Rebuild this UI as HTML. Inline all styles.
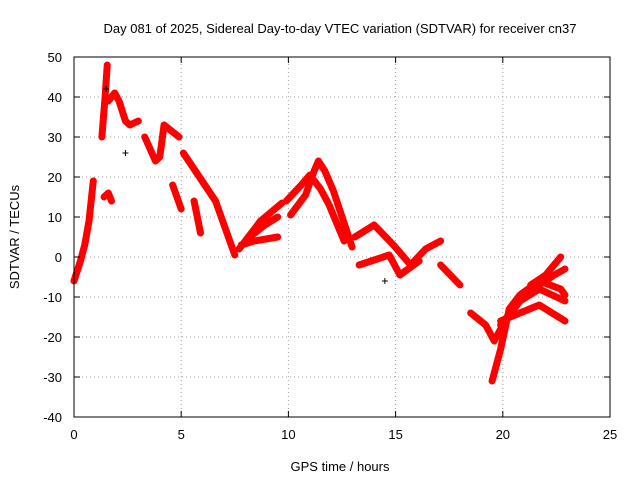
<!DOCTYPE html>
<html><head><meta charset="utf-8"><style>
body{margin:0;background:#fff;width:640px;height:480px;overflow:hidden}
svg{font-family:"Liberation Sans",sans-serif;font-size:12px}
</style></head><body>
<svg id="chart" width="640" height="480" xmlns="http://www.w3.org/2000/svg">
<text x="340" y="33" text-anchor="middle" font-size="13">Day 081 of 2025, Sidereal Day-to-day VTEC variation (SDTVAR) for receiver cn37</text>
<text x="340" y="471" text-anchor="middle" font-size="13">GPS time / hours</text>
<text x="19" y="237" text-anchor="middle" font-size="13" transform="rotate(-90 19 237)">SDTVAR / TECUs</text>
<g id="grid"></g><g id="marks"></g><g id="axes"></g>
</svg>
<script>
const xTicks=[0,5,10,15,20,25];
const yTicks=[-40,-30,-20,-10,0,10,20,30,40,50];
const track1=[[0,-6],[0.3,-1],[0.5,3],[0.7,9],[0.9,19]];
const track2=[[1.3,30],[1.45,40],[1.55,48]];
const track3=[[1.4,15],[1.6,16],[1.75,14]];
const track4=[[1.6,39],[1.9,41],[2.1,39],[2.4,34],[2.6,33],[3.0,34]];
const track5=[[3.3,30],[3.8,24],[4.0,25],[4.2,33],[4.9,30]];
const track6=[[4.6,18],[5.0,12]];
const track7=[[5.1,26],[6.1,18],[6.6,14],[7.0,8],[7.5,0.5]];
const track8=[[5.6,14],[5.9,6]];
const track9=[[7.7,2],[8.7,9],[9.7,13.5]];
const track10=[[7.8,3],[8.4,4],[9.5,5]];
const track10b=[[8.2,5],[8.9,8],[9.5,10]];
const track11=[[10.1,10.5],[10.8,15.5],[11.2,21.5],[11.4,24],[11.7,21.5],[12.1,16.5],[12.97,2.5]];
const track12=[[9.9,14],[10.6,18],[11.0,20.5],[11.5,17],[11.9,13],[12.6,4]];
const track13=[[13.1,5],[14.0,8],[14.9,3],[15.7,-2],[16.4,2],[17.1,4]];
const track14=[[13.3,-2],[14.7,0.5],[15.2,-4.5],[16.1,-1]];
const track15=[[17.1,-2],[18.0,-7]];
const track16=[[18.5,-14],[19.2,-17],[19.6,-21],[20.1,-16],[20.8,-11],[21.7,-7],[22.4,-4.5],[22.9,-3]];
const track17=[[19.5,-31],[19.9,-23],[20.3,-13],[20.8,-9.5],[21.7,-6],[22.7,-8],[22.9,-9.5]];
const track18=[[19.9,-17],[20.8,-11],[21.7,-8],[22.9,-11]];
const track19=[[19.9,-16],[21.7,-12],[22.9,-16]];
const track20=[[21.3,-7],[22.0,-4.5],[22.7,0]];
const blackPts=[[1.5,42],[2.4,26],[14.5,-6]];
const tracks=[track1,track2,track3,track4,track5,track6,track7,track8,track9,track10,track10b,track11,track12,track13,track14,track15,track16,track17,track18,track19,track20];
const X0=74,X1=610,Y0=417,Y1=57,xmin=0,xmax=25,ymin=-40,ymax=50;
const sx=v=>X0+(v-xmin)/(xmax-xmin)*(X1-X0);
const sy=v=>Y0-(v-ymin)/(ymax-ymin)*(Y0-Y1);
const NS="http://www.w3.org/2000/svg";
function mk(t,a,p){const e=document.createElementNS(NS,t);for(const k in a)e.setAttribute(k,a[k]);p.appendChild(e);return e;}
const g=document.getElementById('grid'),m=document.getElementById('marks'),ax=document.getElementById('axes');
xTicks.forEach(v=>{
 const l=mk('line',{x1:sx(v),x2:sx(v),y1:Y0,y2:Y1,stroke:'#a0a0a0','stroke-dasharray':'1,3'},g);
 
 
 const t=mk('text',{x:sx(v),y:Y0+22,'text-anchor':'middle','font-size':13},ax);t.textContent=v;
 
 
 mk('line',{x1:sx(v),x2:sx(v),y1:Y0,y2:Y0-6,stroke:'#000'},ax);
 mk('line',{x1:sx(v),x2:sx(v),y1:Y1,y2:Y1+6,stroke:'#000'},ax);
});
yTicks.forEach(v=>{
 const l=mk('line',{x1:X0,x2:X1,y1:sy(v),y2:sy(v),stroke:'#a0a0a0','stroke-dasharray':'1,3'},g);
 
 
 const t=mk('text',{x:X0-12,y:sy(v)+5,'text-anchor':'end','font-size':13},ax);t.textContent=v;
 
 
 mk('line',{x1:X0,x2:X0+6,y1:sy(v),y2:sy(v),stroke:'#000'},ax);
 mk('line',{x1:X1,x2:X1-6,y1:sy(v),y2:sy(v),stroke:'#000'},ax);
});
const fr=mk('rect',{x:X0,y:Y1,width:X1-X0,height:Y0-Y1,fill:'none',stroke:'#000'},ax);


tracks.forEach(tr=>{
 const p=mk('polyline',{points:tr.map(d=>sx(d[0])+','+sy(d[1])).join(' '),fill:'none',stroke:'#f00','stroke-width':7,'stroke-linecap':'round','stroke-linejoin':'round'},m);
 
 
});
blackPts.forEach(d=>{
 const x=sx(d[0]),y=sy(d[1]);
 const p=mk('path',{d:`M${x-3},${y}H${x+3}M${x},${y-3}V${y+3}`,stroke:'#000','stroke-width':1},m);
 
 
});
</script>
</body></html>
